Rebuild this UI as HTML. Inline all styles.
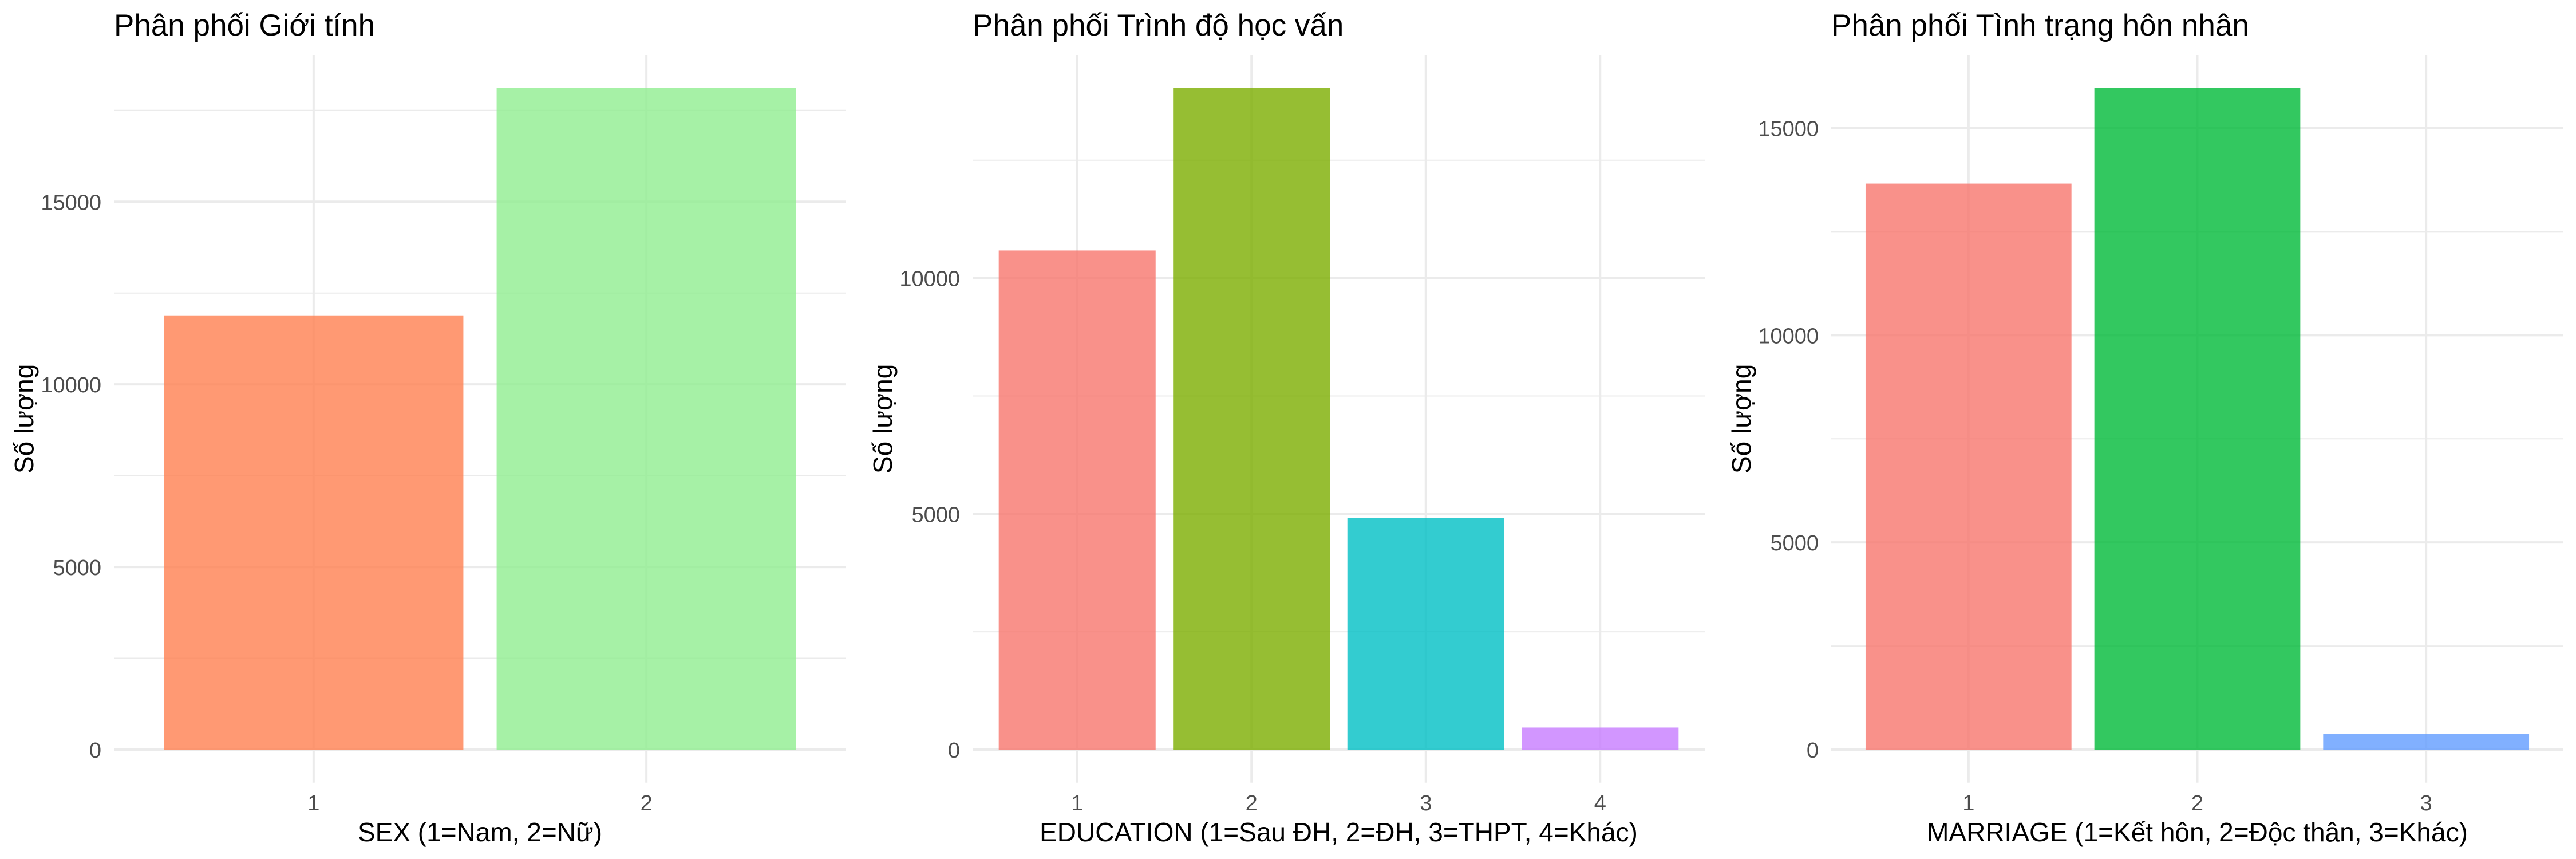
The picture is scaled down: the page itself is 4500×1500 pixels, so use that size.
<!DOCTYPE html>
<html><head><meta charset="utf-8">
<style>
html,body{margin:0;padding:0;background:#fff;}
svg{display:block;font-family:"Liberation Sans",Arial,sans-serif;}
</style></head>
<body>
<svg id="chart" width="4500" height="1500" viewBox="0 0 4500 1500" xmlns="http://www.w3.org/2000/svg"></svg>
<script>
// Panel 1: SEX
const sexCategories = ["1", "2"];
const sexValues = [11888, 18112];
const sexColors = ["#FF7F50", "#90EE90"];
const sexTicks = [0, 5000, 10000, 15000];
// Panel 2: EDUCATION
const eduCategories = ["1", "2", "3", "4"];
const eduValues = [10585, 14030, 4917, 468];
const eduColors = ["#F8766D", "#7CAE00", "#00BFC4", "#C77CFF"];
const eduTicks = [0, 5000, 10000];
// Panel 3: MARRIAGE
const marCategories = ["1", "2", "3"];
const marValues = [13659, 15964, 377];
const marColors = ["#F8766D", "#00BA38", "#619CFF"];
const marTicks = [0, 5000, 10000, 15000];

const panels = [
  {key:"sex", title:"Phân phối Giới tính", xTitle:"SEX (1=Nam, 2=Nữ)", cats:sexCategories, vals:sexValues, cols:sexColors, ticks:sexTicks},
  {key:"education", title:"Phân phối Trình độ học vấn", xTitle:"EDUCATION (1=Sau ĐH, 2=ĐH, 3=THPT, 4=Khác)", cats:eduCategories, vals:eduValues, cols:eduColors, ticks:eduTicks},
  {key:"marriage", title:"Phân phối Tình trạng hôn nhân", xTitle:"MARRIAGE (1=Kết hôn, 2=Độc thân, 3=Khác)", cats:marCategories, vals:marValues, cols:marColors, ticks:marTicks}
];

const NS = "http://www.w3.org/2000/svg";
const svg = document.getElementById("chart");
function mk(tag, attrs, parent){
  const e = document.createElementNS(NS, tag);
  for (const k in attrs) e.setAttribute(k, attrs[k]);
  parent.appendChild(e);
  return e;
}

panels.forEach((p, pi) => {
  const ox = pi * 1500;
  const L = ox + 199, R = ox + 1478, zeroY = 1309, topY = 96;
  const maxV = Math.max(...p.vals) * 1.05;
  const y = v => zeroY - v / maxV * (zeroY - topY);
  const n = p.cats.length;
  const step = (R - L) / (n - 1 + 1.2);
  const x = i => L + (0.6 + i) * step;
  const bottomY = y(-0.05 * maxV / 1.05);

  const g = mk("g", {}, svg);
  
  

  const tstep = p.ticks[1] - p.ticks[0];
  for (let v = tstep / 2; v < maxV; v += tstep) {
    const ln = mk("line", {x1:L, x2:R, y1:y(v), y2:y(v), stroke:"#ebebeb", "stroke-width":2}, g);
    
    
  }
  p.ticks.forEach(t => {
    const ln = mk("line", {x1:L, x2:R, y1:y(t), y2:y(t), stroke:"#ebebeb", "stroke-width":4}, g);
    
    
    const tx = mk("text", {x:L - 22, y:y(t) + 14, "text-anchor":"end", "font-size":38, fill:"#4d4d4d"}, g);
    tx.textContent = String(t);
    
    
  });
  p.cats.forEach((c, i) => {
    const ln = mk("line", {x1:x(i), x2:x(i), y1:topY, y2:bottomY, stroke:"#ebebeb", "stroke-width":4}, g);
    
    
    const tx = mk("text", {x:x(i), y:1415, "text-anchor":"middle", "font-size":38, fill:"#4d4d4d"}, g);
    tx.textContent = c;
    
    
  });
  p.vals.forEach((v, i) => {
    const w = step * 0.9;
    const r = mk("rect", {x:x(i) - w/2, y:y(v), width:w, height:zeroY - y(v), fill:p.cols[i], "fill-opacity":0.8}, g);
    
    
  });
  const tt = mk("text", {x:L, y:62, "font-size":53, fill:"#000"}, g);
  tt.textContent = p.title;
  
  
  const xt = mk("text", {x:(L + R) / 2, y:1469, "text-anchor":"middle", "font-size":46, fill:"#000"}, g);
  xt.textContent = p.xTitle;
  
  
  const yt = mk("text", {x:0, y:0, "text-anchor":"middle", "font-size":46, fill:"#000", transform:"translate(" + (ox + 58) + "," + ((topY + bottomY) / 2) + ") rotate(-90)"}, g);
  yt.textContent = "Số lượng";
  
  
});
</script>
</body></html>
